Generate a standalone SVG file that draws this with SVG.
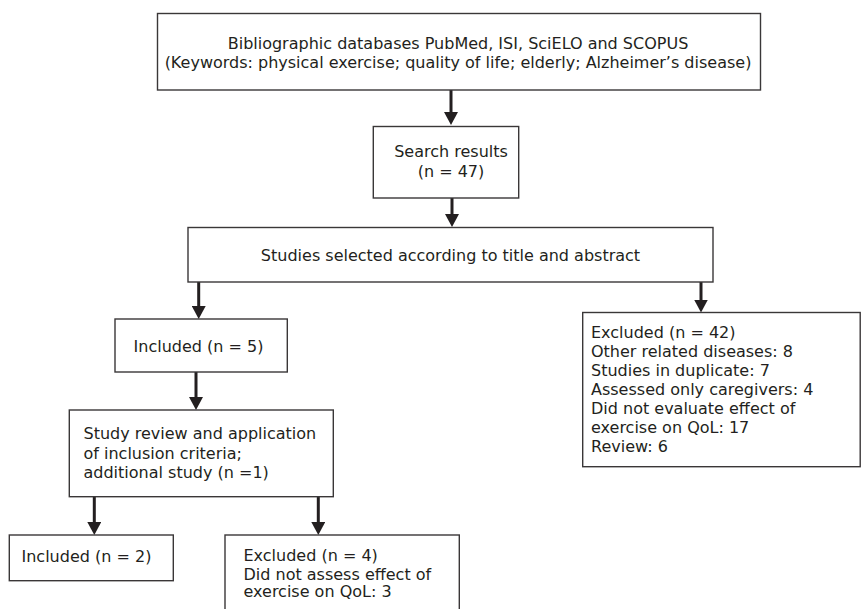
<svg xmlns="http://www.w3.org/2000/svg" width="861" height="609" viewBox="0 0 861 609">
<style>
  .box { fill: #ffffff; stroke: #3a3738; stroke-width: 1.4; }
  .t { font-family: "DejaVu Sans", Verdana, sans-serif; font-size: 16px; fill: #231f20; }
  .c { text-anchor: middle; }
  .arr { stroke: #231f20; stroke-width: 3; fill: none; marker-end: url(#ah); }
</style>
<defs>
  <marker id="ah" markerUnits="userSpaceOnUse" markerWidth="14" markerHeight="14" refX="1" refY="7" orient="auto" viewBox="0 0 14 14">
    <path d="M0,0 L13,7 L0,14 z" fill="#231f20"/>
  </marker>
</defs>
<rect width="861" height="609" fill="#ffffff"/>

<g id="connectors">
  <line class="arr" x1="451" y1="90" x2="451" y2="113"/>
  <line class="arr" x1="452" y1="198" x2="452" y2="215"/>
  <line class="arr" x1="198.7" y1="282" x2="198.7" y2="307"/>
  <line class="arr" x1="701" y1="282" x2="701" y2="300.5"/>
  <line class="arr" x1="196" y1="372" x2="196" y2="398"/>
  <line class="arr" x1="94.3" y1="497" x2="94.3" y2="523"/>
  <line class="arr" x1="318.3" y1="497" x2="318.3" y2="523"/>
</g>

<g id="databases">
  <rect class="box" x="157.5" y="13.5" width="603" height="76.5"/>
  <text class="t c" x="458" y="49">Bibliographic databases PubMed, ISI, SciELO and SCOPUS</text>
  <text class="t c" x="458" y="68">(Keywords: physical exercise; quality of life; elderly; Alzheimer’s disease)</text>
</g>

<g id="search">
  <rect class="box" x="373.3" y="126.5" width="145.4" height="71.5"/>
  <text class="t c" x="451" y="157">Search results</text>
  <text class="t c" x="451" y="177">(n = 47)</text>
</g>

<g id="selected">
  <rect class="box" x="188" y="227.5" width="525" height="54.5"/>
  <text class="t c" x="450.5" y="261">Studies selected according to title and abstract</text>
</g>

<g id="included5">
  <rect class="box" x="115" y="319" width="172.3" height="53"/>
  <text class="t c" x="198.5" y="351.5">Included (n = 5)</text>
</g>

<g id="excluded42">
  <rect class="box" x="582.7" y="312.5" width="277.5" height="154.2"/>
  <text class="t" x="591" y="338">Excluded (n = 42)</text>
  <text class="t" x="591" y="357">Other related diseases: 8</text>
  <text class="t" x="591" y="376">Studies in duplicate: 7</text>
  <text class="t" x="591" y="395">Assessed only caregivers: 4</text>
  <text class="t" x="591" y="414">Did not evaluate effect of</text>
  <text class="t" x="591" y="433">exercise on QoL: 17</text>
  <text class="t" x="591" y="452">Review: 6</text>
</g>

<g id="review">
  <rect class="box" x="69.3" y="410" width="264" height="86.7"/>
  <text class="t" x="83.5" y="439">Study review and application</text>
  <text class="t" x="83.5" y="458.5">of inclusion criteria;</text>
  <text class="t" x="83.5" y="478">additional study (n =1)</text>
</g>

<g id="included2">
  <rect class="box" x="9.3" y="535" width="164" height="45.7"/>
  <text class="t" x="21.5" y="561.5">Included (n = 2)</text>
</g>

<g id="excluded4">
  <rect class="box" x="225" y="535" width="234.3" height="90"/>
  <text class="t" x="243.5" y="561">Excluded (n = 4)</text>
  <text class="t" x="243.5" y="579.5">Did not assess effect of</text>
  <text class="t" x="243.5" y="597">exercise on QoL: 3</text>
</g>
</svg>
